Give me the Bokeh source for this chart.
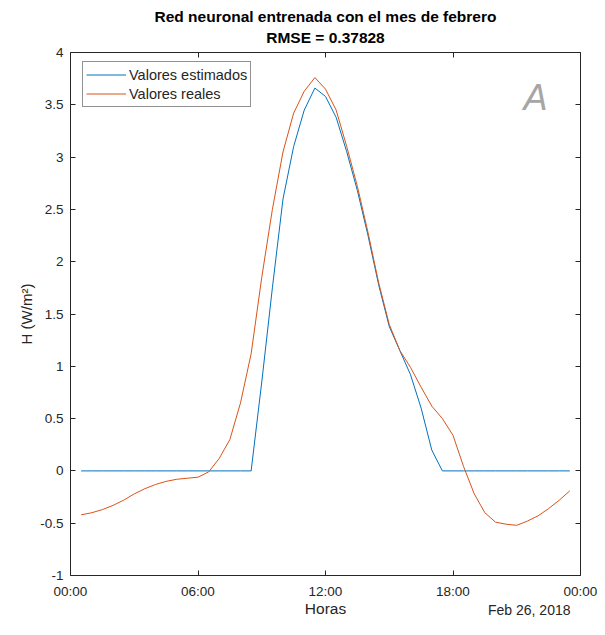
from bokeh.plotting import figure
from bokeh.models import (Range1d, FixedTicker, LinearAxis, Label, Legend, LegendItem,
                          Title, CustomLabelingPolicy)
from bokeh.embed import file_html
from bokeh.resources import INLINE

# ---- data (hours of Feb 26, 2018) ----
hours = [0.5, 1.0, 1.5, 2.0, 2.5, 3.0, 3.5, 4.0, 4.5, 5.0, 5.5, 6.0, 6.5, 7.0, 7.5, 8.0,
         8.5, 9.0, 9.5, 10.0, 10.5, 11.0, 11.5, 12.0, 12.5, 13.0, 13.5, 14.0, 14.5, 15.0,
         15.5, 16.0, 16.5, 17.0, 17.5, 18.0, 18.5, 19.0, 19.5, 20.0, 20.5, 21.0, 21.5,
         22.0, 22.5, 23.0, 23.5]
estimados = [0, 0, 0, 0, 0, 0, 0, 0, 0, 0, 0, 0, 0, 0, 0, 0,
             0, 0.85, 1.75, 2.6, 3.1, 3.45, 3.66, 3.58, 3.38, 3.05, 2.68, 2.25, 1.78, 1.38,
             1.15, 0.92, 0.6, 0.2, 0, 0, 0, 0, 0, 0, 0, 0, 0,
             0, 0, 0, 0]
reales = [-0.42, -0.40, -0.37, -0.33, -0.28, -0.22, -0.17, -0.13, -0.10, -0.08, -0.07, -0.06,
          -0.01, 0.12, 0.3, 0.65, 1.12, 1.85, 2.5, 3.05, 3.42, 3.63, 3.76, 3.65, 3.45, 3.1,
          2.72, 2.28, 1.8, 1.4, 1.15, 0.99, 0.8, 0.62, 0.5, 0.34, 0.04, -0.22, -0.4, -0.49,
          -0.51, -0.52, -0.48, -0.43, -0.36, -0.28, -0.19]
x_ticks = [0, 6, 12, 18, 24]
x_tick_labels = ["00:00", "06:00", "12:00", "18:00", "00:00"]
y_ticks = [-1, -0.5, 0, 0.5, 1, 1.5, 2, 2.5, 3, 3.5, 4]
y_tick_labels = ["-1", "-0.5", "0", "0.5", "1", "1.5", "2", "2.5", "3", "3.5", "4"]

FONT = "Liberation Sans"
TXT = "#262626"
BLUE = "#0072BD"
ORANGE = "#D95319"

p = figure(width=597, height=627, output_backend="svg", toolbar_location=None,
           x_range=Range1d(0, 24), y_range=Range1d(-1, 4),
           min_border_left=70, min_border_right=17, min_border_top=52, min_border_bottom=52)
p.background_fill_color = "white"
p.border_fill_color = "white"
p.outline_line_color = "#262626"
p.outline_line_width = 1
p.xgrid.visible = False
p.ygrid.visible = False

r_est = p.line(hours, estimados, line_color=BLUE, line_width=1)
r_real = p.line(hours, reales, line_color=ORANGE, line_width=1)

def style(ax, labels=True):
    ax.axis_line_color = None
    ax.major_tick_in = 5
    ax.major_tick_out = 0
    ax.major_tick_line_color = "#262626"
    ax.minor_tick_line_color = None
    ax.major_label_text_font = FONT
    ax.major_label_text_color = TXT
    ax.axis_label_text_font = FONT
    ax.axis_label_text_font_size = "15px"
    ax.axis_label_text_font_style = "normal"
    ax.axis_label_text_color = TXT
    if labels:
        ax.major_label_text_font_size = "13.5px"
    else:
        ax.major_label_text_font_size = "1px"
        ax.major_label_standoff = 0
        ax.major_label_policy = CustomLabelingPolicy(code="return []")

xa = p.xaxis[0]
xa.ticker = FixedTicker(ticks=x_ticks)
xa.major_label_overrides = {t: l for t, l in zip(x_ticks, x_tick_labels)}
style(xa)
xa.major_label_standoff = 8

ya = p.yaxis[0]
ya.ticker = FixedTicker(ticks=y_ticks)
ya.major_label_overrides = {t: l for t, l in zip(y_ticks, y_tick_labels)}
ya.axis_label = "H (W/m²)"
style(ya)
ya.major_label_standoff = 7
ya.axis_label_standoff = 2

ra = LinearAxis(ticker=FixedTicker(ticks=y_ticks))
style(ra, labels=False)
p.add_layout(ra, "right")
ta = LinearAxis(ticker=FixedTicker(ticks=x_ticks))
style(ta, labels=False)
p.add_layout(ta, "above")

# Titles
p.title.text = "Red neuronal entrenada con el mes de febrero"
p.title.align = "center"
p.title.text_font = FONT
p.title.text_font_size = "15.5px"
p.title.text_font_style = "bold"
p.title.text_color = "black"
p.title.standoff = 0
sub = Title(text="RMSE = 0.37828", align="center", text_font=FONT, text_font_size="15.5px",
            text_font_style="bold", text_color="black", standoff=5)
p.add_layout(sub, "above")

# x label and date
horas = Title(text="Horas", align="center", text_font=FONT, text_font_size="15.5px",
              text_font_style="normal", text_color=TXT, standoff=-7)
p.add_layout(horas, "below")
fecha = Title(text="Feb 26, 2018", align="right", offset=10, vertical_align="top",
              text_font=FONT, text_font_size="14px", text_font_style="normal",
              text_color=TXT, standoff=-23)
p.add_layout(fecha, "below")

legend = Legend(items=[LegendItem(label="Valores estimados", renderers=[r_est]),
                       LegendItem(label="Valores reales", renderers=[r_real])],
                location=(12, 523 - 11 - 44))
legend.margin = 0
legend.padding = 3
legend.spacing = 0
legend.glyph_width = 40
legend.glyph_height = 19
legend.label_height = 19
legend.label_standoff = 3
legend.label_text_font = FONT
legend.label_text_font_size = "14.5px"
legend.label_text_color = TXT
legend.border_line_color = "#262626"
legend.border_line_width = 1
legend.background_fill_color = "white"
legend.background_fill_alpha = 1
p.add_layout(legend, "center")

# Panel letter
p.add_layout(Label(x=465, y=478, x_units="screen", y_units="screen", text="A",
                   text_align="center", text_baseline="middle", text_font=FONT,
                   text_font_size="36px", text_font_style="italic", text_color="#a6a6a6"))

open("out.html", "w").write(file_html(p, INLINE))
